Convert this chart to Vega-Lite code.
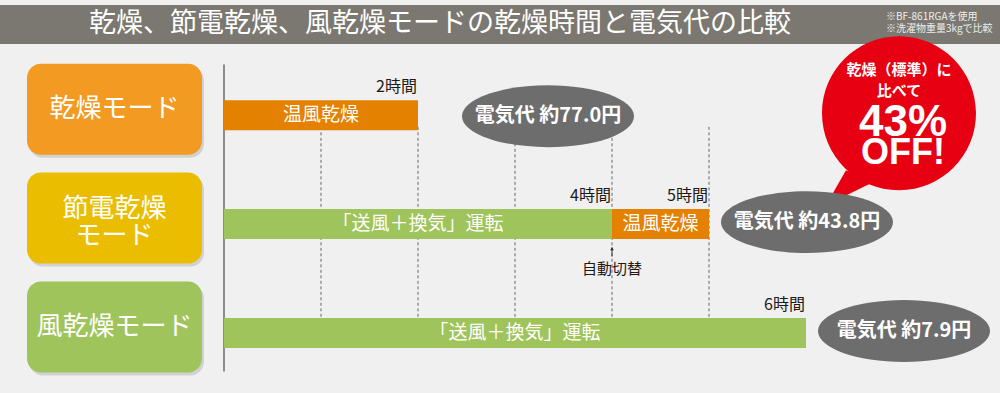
{
  "$schema": "https://vega.github.io/schema/vega-lite/v6.json",
  "width": 1000,
  "height": 393,
  "autosize": {"type": "fit", "contains": "padding"},
  "padding": 0,
  "background": "#eff0ef",
  "config": {
    "view": {"stroke": null},
    "axis": {"disable": true},
    "legend": {"disable": true},
    "text": {"font": "Noto Sans CJK JP"}
  },
  "datasets": {
    "modes": [
      {"row": 1, "mode": "乾燥モード", "label": "乾燥モード", "hours": 2, "cost": 77.0, "costLabel": "電気代 約77.0円"},
      {"row": 2, "mode": "節電乾燥モード", "label": "節電乾燥\nモード", "hours": 5, "cost": 43.8, "costLabel": "電気代 約43.8円"},
      {"row": 3, "mode": "風乾燥モード", "label": "風乾燥モード", "hours": 6, "cost": 7.9, "costLabel": "電気代 約7.9円"}
    ],
    "segments": [
      {"row": 1, "phase": "温風乾燥", "label": "温風乾燥", "start": 0, "end": 2, "endLabel": "2時間"},
      {"row": 2, "phase": "送風＋換気", "label": "「送風＋換気」運転", "start": 0, "end": 4, "endLabel": "4時間"},
      {"row": 2, "phase": "温風乾燥", "label": "温風乾燥", "start": 4, "end": 5, "endLabel": "5時間"},
      {"row": 3, "phase": "送風＋換気", "label": "「送風＋換気」運転", "start": 0, "end": 6, "endLabel": "6時間"}
    ],
    "grid": [{"h": 1}, {"h": 2}, {"h": 3}, {"h": 4}, {"h": 5}]
  },
  "layer": [
    {
      "data": {"values": [{}]},
      "mark": {"type": "rect", "color": "#7a7870"},
      "encoding": {
        "x": {"datum": -2.30928, "type": "quantitative", "scale": {"domain": [-2.30928, 8], "nice": false, "zero": false}},
        "x2": {"datum": 8},
        "y": {"datum": -0.0119, "type": "quantitative", "scale": {"domain": [-0.0119, 3.50488], "nice": false, "zero": false, "reverse": true}},
        "y2": {"datum": 0.34604}
      }
    },
    {
      "data": {"values": [{}]},
      "mark": {"type": "text", "text": "乾燥、節電乾燥、風乾燥モードの乾燥時間と電気代の比較", "fontSize": 27, "color": "#ffffff", "align": "center", "baseline": "middle"},
      "encoding": {
        "x": {"datum": 2.2268, "type": "quantitative", "scale": {"domain": [-2.30928, 8], "nice": false, "zero": false}},
        "y": {"datum": 0.16707, "type": "quantitative", "scale": {"domain": [-0.0119, 3.50488], "nice": false, "zero": false, "reverse": true}}
      }
    },
    {
      "data": {"values": [{}]},
      "mark": {"type": "text", "text": "※BF-861RGAを使用", "fontSize": 10, "color": "#eeeeee", "align": "left", "baseline": "middle"},
      "encoding": {
        "x": {"datum": 6.82474, "type": "quantitative", "scale": {"domain": [-2.30928, 8], "nice": false, "zero": false}},
        "y": {"datum": 0.0955, "type": "quantitative", "scale": {"domain": [-0.0119, 3.50488], "nice": false, "zero": false, "reverse": true}}
      }
    },
    {
      "data": {"values": [{}]},
      "mark": {"type": "text", "text": "※洗濯物重量3kgで比較", "fontSize": 10, "color": "#eeeeee", "align": "left", "baseline": "middle"},
      "encoding": {
        "x": {"datum": 6.82474, "type": "quantitative", "scale": {"domain": [-2.30928, 8], "nice": false, "zero": false}},
        "y": {"datum": 0.2118, "type": "quantitative", "scale": {"domain": [-0.0119, 3.50488], "nice": false, "zero": false, "reverse": true}}
      }
    },
    {
      "data": {"name": "modes"},
      "mark": {"type": "bar", "orient": "horizontal", "size": 91, "cornerRadius": 14, "color": "#000000", "opacity": 0.13, "xOffset": 2, "x2Offset": 2, "yOffset": -3},
      "encoding": {
        "x": {"datum": -2.03093, "type": "quantitative", "scale": {"domain": [-2.30928, 8], "nice": false, "zero": false}},
        "x2": {"datum": -0.2268},
        "y": {"field": "row", "type": "quantitative", "scale": {"domain": [-0.0119, 3.50488], "nice": false, "zero": false, "reverse": true}}
      }
    },
    {
      "data": {"name": "modes"},
      "mark": {"type": "bar", "orient": "horizontal", "size": 91, "cornerRadius": 14, "yOffset": -6},
      "encoding": {
        "x": {"datum": -2.03093, "type": "quantitative", "scale": {"domain": [-2.30928, 8], "nice": false, "zero": false}},
        "x2": {"datum": -0.2268},
        "y": {"field": "row", "type": "quantitative", "scale": {"domain": [-0.0119, 3.50488], "nice": false, "zero": false, "reverse": true}},
        "fill": {"field": "mode", "type": "nominal", "scale": {"domain": ["乾燥モード", "節電乾燥モード", "風乾燥モード"], "range": ["#f29a21", "#eabd00", "#9fc45b"]}}
      }
    },
    {
      "data": {"name": "modes"},
      "transform": [{"filter": "datum.row != 2"}],
      "mark": {"type": "text", "fontSize": 26, "color": "#ffffff", "align": "center", "baseline": "middle", "dy": -6},
      "encoding": {
        "x": {"datum": -1.12887, "type": "quantitative", "scale": {"domain": [-2.30928, 8], "nice": false, "zero": false}},
        "y": {"field": "row", "type": "quantitative", "scale": {"domain": [-0.0119, 3.50488], "nice": false, "zero": false, "reverse": true}},
        "text": {"field": "label"}
      }
    },
    {
      "data": {"name": "modes"},
      "transform": [{"filter": "datum.row == 2"}],
      "mark": {"type": "text", "fontSize": 26, "lineBreak": "\n", "lineHeight": 27, "color": "#ffffff", "align": "center", "baseline": "middle", "dy": -15},
      "encoding": {
        "x": {"datum": -1.12887, "type": "quantitative", "scale": {"domain": [-2.30928, 8], "nice": false, "zero": false}},
        "y": {"field": "row", "type": "quantitative", "scale": {"domain": [-0.0119, 3.50488], "nice": false, "zero": false, "reverse": true}},
        "text": {"field": "label"}
      }
    },
    {
      "data": {"values": [{}]},
      "mark": {"type": "rule", "color": "#4a4a4a", "strokeWidth": 1.2},
      "encoding": {
        "x": {"datum": 0, "type": "quantitative", "scale": {"domain": [-2.30928, 8], "nice": false, "zero": false}},
        "y": {"datum": 0.53396, "type": "quantitative", "scale": {"domain": [-0.0119, 3.50488], "nice": false, "zero": false, "reverse": true}},
        "y2": {"datum": 3.35275}
      }
    },
    {
      "data": {"name": "grid"},
      "mark": {"type": "rule", "color": "#666666", "strokeWidth": 1, "strokeDash": [3, 2.5]},
      "encoding": {
        "x": {"field": "h", "type": "quantitative", "scale": {"domain": [-2.30928, 8], "nice": false, "zero": false}},
        "y": {"datum": 1.10666, "type": "quantitative", "scale": {"domain": [-0.0119, 3.50488], "nice": false, "zero": false, "reverse": true}},
        "y2": {"datum": 2.86954}
      }
    },
    {
      "data": {"values": [{}]},
      "mark": {"type": "point", "filled": true, "opacity": 1, "color": "#e60012", "size": 4, "shape": "M -77 0 C -77 -42.53 -42.53 -77 0 -77 C 42.53 -77 77 -42.53 77 0 C 77 42.53 42.53 77 0 77 C -42.53 77 -77 42.53 -77 0 Z M -28 70 L -73 92 L -53 57 Z"},
      "encoding": {
        "x": {"datum": 6.95876, "type": "quantitative", "scale": {"domain": [-2.30928, 8], "nice": false, "zero": false}},
        "y": {"datum": 0.98139, "type": "quantitative", "scale": {"domain": [-0.0119, 3.50488], "nice": false, "zero": false, "reverse": true}}
      }
    },
    {
      "data": {"name": "segments"},
      "mark": {"type": "bar", "orient": "horizontal", "size": 30},
      "encoding": {
        "x": {"field": "start", "type": "quantitative", "scale": {"domain": [-2.30928, 8], "nice": false, "zero": false}},
        "x2": {"field": "end"},
        "y": {"field": "row", "type": "quantitative", "scale": {"domain": [-0.0119, 3.50488], "nice": false, "zero": false, "reverse": true}},
        "color": {"field": "phase", "type": "nominal", "scale": {"domain": ["温風乾燥", "送風＋換気"], "range": ["#e48100", "#9fc45b"]}}
      }
    },
    {
      "data": {"name": "segments"},
      "transform": [
        {"fold": ["start", "end"], "as": ["k", "v"]},
        {"aggregate": [{"op": "mean", "field": "v", "as": "mid"}], "groupby": ["row", "label"]}
      ],
      "mark": {"type": "text", "fontSize": 19, "color": "#ffffff", "align": "center", "baseline": "middle"},
      "encoding": {
        "x": {"field": "mid", "type": "quantitative", "scale": {"domain": [-2.30928, 8], "nice": false, "zero": false}},
        "y": {"field": "row", "type": "quantitative", "scale": {"domain": [-0.0119, 3.50488], "nice": false, "zero": false, "reverse": true}},
        "text": {"field": "label"}
      }
    },
    {
      "data": {"name": "segments"},
      "mark": {"type": "text", "fontSize": 16, "color": "#231815", "align": "right", "baseline": "middle", "dx": -1, "dy": -28},
      "encoding": {
        "x": {"field": "end", "type": "quantitative", "scale": {"domain": [-2.30928, 8], "nice": false, "zero": false}},
        "y": {"field": "row", "type": "quantitative", "scale": {"domain": [-0.0119, 3.50488], "nice": false, "zero": false, "reverse": true}},
        "text": {"field": "endLabel"}
      }
    },
    {
      "data": {"name": "segments"},
      "transform": [{"filter": "datum.row == 2 && datum.start > 0"}],
      "mark": {"type": "rule", "color": "#333333", "strokeWidth": 1},
      "encoding": {
        "x": {"field": "start", "type": "quantitative", "scale": {"domain": [-2.30928, 8], "nice": false, "zero": false}},
        "y": {"datum": 2.21629, "type": "quantitative", "scale": {"domain": [-0.0119, 3.50488], "nice": false, "zero": false, "reverse": true}},
        "y2": {"datum": 2.29682}
      }
    },
    {
      "data": {"name": "segments"},
      "transform": [{"filter": "datum.row == 2 && datum.start > 0"}],
      "mark": {"type": "point", "shape": "triangle-up", "filled": true, "opacity": 1, "color": "#333333", "size": 14},
      "encoding": {
        "x": {"field": "start", "type": "quantitative", "scale": {"domain": [-2.30928, 8], "nice": false, "zero": false}},
        "y": {"datum": 2.22524, "type": "quantitative", "scale": {"domain": [-0.0119, 3.50488], "nice": false, "zero": false, "reverse": true}}
      }
    },
    {
      "data": {"name": "segments"},
      "transform": [{"filter": "datum.row == 2 && datum.start > 0"}],
      "mark": {"type": "text", "text": "自動切替", "fontSize": 15, "color": "#231815", "align": "center", "baseline": "middle"},
      "encoding": {
        "x": {"field": "start", "type": "quantitative", "scale": {"domain": [-2.30928, 8], "nice": false, "zero": false}},
        "y": {"datum": 2.41315, "type": "quantitative", "scale": {"domain": [-0.0119, 3.50488], "nice": false, "zero": false, "reverse": true}}
      }
    },
    {
      "data": {"name": "modes"},
      "transform": [{"filter": "datum.row == 1"}],
      "mark": {"type": "point", "filled": true, "opacity": 1, "color": "#6d6d6d", "size": 29584, "xOffset": 130, "yOffset": 1, "shape": "M -1 0 C -1 -0.1988 -0.5523 -0.36 0 -0.36 C 0.5523 -0.36 1 -0.1988 1 0 C 1 0.1988 0.5523 0.36 0 0.36 C -0.5523 0.36 -1 0.1988 -1 0 Z"},
      "encoding": {
        "x": {"field": "hours", "type": "quantitative", "scale": {"domain": [-2.30928, 8], "nice": false, "zero": false}},
        "y": {"field": "row", "type": "quantitative", "scale": {"domain": [-0.0119, 3.50488], "nice": false, "zero": false, "reverse": true}}
      }
    },
    {
      "data": {"name": "modes"},
      "transform": [{"filter": "datum.row == 1"}],
      "mark": {"type": "text", "fontSize": 20, "fontWeight": "bold", "color": "#ffffff", "align": "center", "baseline": "middle", "dx": 130, "dy": 1},
      "encoding": {
        "x": {"field": "hours", "type": "quantitative", "scale": {"domain": [-2.30928, 8], "nice": false, "zero": false}},
        "y": {"field": "row", "type": "quantitative", "scale": {"domain": [-0.0119, 3.50488], "nice": false, "zero": false, "reverse": true}},
        "text": {"field": "costLabel"}
      }
    },
    {
      "data": {"name": "modes"},
      "transform": [{"filter": "datum.row > 1"}],
      "mark": {"type": "point", "filled": true, "opacity": 1, "color": "#6d6d6d", "size": 29584, "xOffset": 98, "yOffset": -2, "shape": "M -1 0 C -1 -0.1988 -0.5523 -0.36 0 -0.36 C 0.5523 -0.36 1 -0.1988 1 0 C 1 0.1988 0.5523 0.36 0 0.36 C -0.5523 0.36 -1 0.1988 -1 0 Z"},
      "encoding": {
        "x": {"field": "hours", "type": "quantitative", "scale": {"domain": [-2.30928, 8], "nice": false, "zero": false}},
        "y": {"field": "row", "type": "quantitative", "scale": {"domain": [-0.0119, 3.50488], "nice": false, "zero": false, "reverse": true}}
      }
    },
    {
      "data": {"name": "modes"},
      "transform": [{"filter": "datum.row > 1"}],
      "mark": {"type": "text", "fontSize": 20, "fontWeight": "bold", "color": "#ffffff", "align": "center", "baseline": "middle", "dx": 98, "dy": -2},
      "encoding": {
        "x": {"field": "hours", "type": "quantitative", "scale": {"domain": [-2.30928, 8], "nice": false, "zero": false}},
        "y": {"field": "row", "type": "quantitative", "scale": {"domain": [-0.0119, 3.50488], "nice": false, "zero": false, "reverse": true}},
        "text": {"field": "costLabel"}
      }
    },
    {
      "data": {"values": [{}]},
      "mark": {"type": "text", "text": "乾燥（標準）に", "fontSize": 15, "fontWeight": "bold", "color": "#ffffff", "align": "center", "baseline": "middle"},
      "encoding": {
        "x": {"datum": 6.95876, "type": "quantitative", "scale": {"domain": [-2.30928, 8], "nice": false, "zero": false}},
        "y": {"datum": 0.58765, "type": "quantitative", "scale": {"domain": [-0.0119, 3.50488], "nice": false, "zero": false, "reverse": true}}
      }
    },
    {
      "data": {"values": [{}]},
      "mark": {"type": "text", "text": "比べて", "fontSize": 15, "fontWeight": "bold", "color": "#ffffff", "align": "center", "baseline": "middle"},
      "encoding": {
        "x": {"datum": 6.95876, "type": "quantitative", "scale": {"domain": [-2.30928, 8], "nice": false, "zero": false}},
        "y": {"datum": 0.77557, "type": "quantitative", "scale": {"domain": [-0.0119, 3.50488], "nice": false, "zero": false, "reverse": true}}
      }
    },
    {
      "data": {"values": [{}]},
      "mark": {"type": "text", "text": "43%", "font": "Liberation Sans", "fontSize": 44, "fontWeight": "bold", "color": "#ffffff", "align": "center", "baseline": "middle"},
      "encoding": {
        "x": {"datum": 7.0, "type": "quantitative", "scale": {"domain": [-2.30928, 8], "nice": false, "zero": false}},
        "y": {"datum": 1.07088, "type": "quantitative", "scale": {"domain": [-0.0119, 3.50488], "nice": false, "zero": false, "reverse": true}}
      }
    },
    {
      "data": {"values": [{}]},
      "mark": {"type": "text", "text": "OFF!", "font": "Liberation Sans", "fontSize": 36, "fontWeight": "bold", "color": "#ffffff", "align": "center", "baseline": "middle"},
      "encoding": {
        "x": {"datum": 7.0, "type": "quantitative", "scale": {"domain": [-2.30928, 8], "nice": false, "zero": false}},
        "y": {"datum": 1.34828, "type": "quantitative", "scale": {"domain": [-0.0119, 3.50488], "nice": false, "zero": false, "reverse": true}}
      }
    }
  ]
}
